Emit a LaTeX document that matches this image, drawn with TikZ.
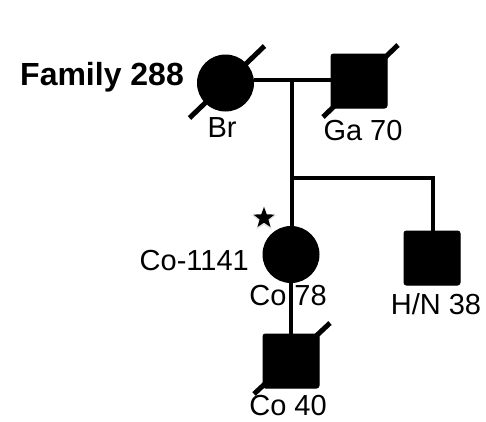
\documentclass[tikz,border=0pt]{standalone}
\usepackage{fontspec}
\setmainfont{Liberation Sans}
\usetikzlibrary{shapes.geometric,calc}
\begin{document}
\begin{tikzpicture}[x=1pt,y=-1pt,
  aff/.style={fill=black,draw=black,line width=1pt,inner sep=0pt},
  fem/.style={aff,circle,minimum size=56pt},
  mal/.style={aff,rectangle,rounded corners=2.5pt,minimum width=56pt,minimum height=54pt},
  link/.style={line width=4pt},
  slash/.style={line width=5pt},
  lbl/.style={font=\fontsize{29}{29}\selectfont,inner sep=0pt,anchor=base},
  starmark/.style={star,star points=5,star point ratio=2.4,fill=black,inner sep=0pt,minimum size=22pt}]
\useasboundingbox (0,0) rectangle (486,421);
\fill[white] (0,0) rectangle (486,421);
% individuals
\node[fem] (br) at (225.5,83) {};
\node[mal] (ga) at (359,81) {};
\node[fem] (co) at (291,254.5) {};
\node[mal] (hn) at (432,258) {};
\node[mal] (c40) at (291,361) {};
% connectors
\coordinate (m) at (292,80);
\coordinate (sib) at (292,178);
\coordinate (sibr) at (433,178);
\draw[link] (br.east |- m) -- (ga.west |- m);
\draw[link] (m) -- (sib);
\draw[link] (sib) -- (co.north -| sib);
\draw[link] (sib) -- (sibr) -- (hn.north -| sibr);
\draw[link] (co.south) -- (c40.north);
% deceased slashes
\draw[slash] ($(br)+(-36,35)$) -- ($(br)+(39,-37)$);
\draw[slash] ($(ga)+(-36,36)$) -- ($(ga)+(39,-36)$);
\draw[slash] ($(c40)+(-37,33)$) -- ($(c40)+(39,-38)$);
% proband star
\node[starmark,fill=black!25,opacity=0.5,minimum size=26pt] (starsh) at (264,219) {};
\node[starmark] (star) at (264,218) {};
% labels
\node[font=\fontsize{32}{32}\selectfont\bfseries,inner sep=0pt,anchor=base west] (fam) at (20,85) {Family 288};
\node[lbl] (lbr) at (222,137) {Br};
\node[lbl] (lga) at (363,140) {Ga 70};
\node[lbl,anchor=base east] (lid) at (249,270) {Co-1141};
\node[lbl] (lco) at (288,305) {Co 78};
\node[lbl] (lhn) at (436,314) {H/N 38};
\node[lbl] (lc40) at (288,415) {Co 40};
\end{tikzpicture}
\end{document}
